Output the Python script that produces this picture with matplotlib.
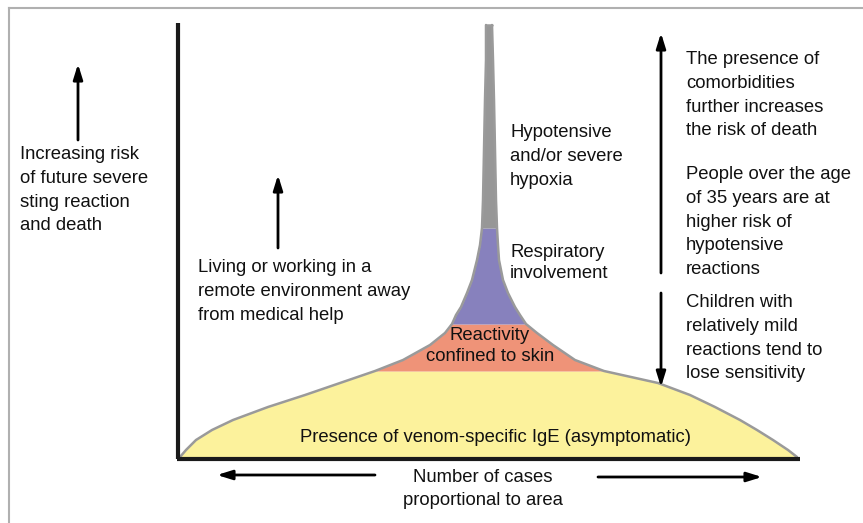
import numpy as np
import matplotlib
matplotlib.use("Agg")
import matplotlib.pyplot as plt

plt.rcParams['font.family'] = ['Liberation Sans', 'DejaVu Sans']

# outline of the "pyramid" (pixel-like coordinates, y measured from the top)
profile_y = np.array([457, 450, 440, 430, 420, 407, 395, 383, 371, 360, 345, 333,
                      324, 315, 307, 293, 280, 260, 245, 228, 200, 150, 100, 60, 25])
profile_left = np.array([180, 186, 196, 212, 233, 268, 305, 340, 375, 403, 430, 445,
                         452, 456, 461, 467, 472, 477, 480, 482, 483, 484, 485, 486, 486])
profile_right = np.array([797, 788, 773, 757, 740, 715, 690, 658, 604, 575, 553, 537,
                          526, 520, 515, 508, 503, 499, 498, 497, 496, 495, 494, 493, 492])

# layers: (bottom, top, colour)
band_names = ["IgE", "skin", "respiratory", "hypotensive"]
band_bottom = [457, 371, 324, 228]
band_top = [371, 324, 228, 25]
band_colors = ["#fcf29c", "#ef9378", "#8781bd", "#979797"]

fig = plt.figure(figsize=(8.63, 5.23), dpi=100)
ax = fig.add_axes([0, 0, 1, 1])
ax.set_xlim(0, 863)
ax.set_ylim(523, 0)
ax.axis("off")

# light frame
ax.plot([9, 863], [8, 8], color="#b0b0b0", lw=1.5)
ax.plot([9, 9], [8, 523], color="#b0b0b0", lw=1.5)

for b, t, c in zip(band_bottom, band_top, band_colors):
    m = (profile_y <= b) & (profile_y >= t)
    ax.fill_betweenx(profile_y[m], profile_left[m], profile_right[m], color=c, lw=0)

ax.plot(profile_left, profile_y, color="#9a9a9a", lw=1.8, solid_capstyle="round",
        solid_joinstyle="round")
ax.plot(profile_right, profile_y, color="#9a9a9a", lw=1.8, solid_capstyle="round",
        solid_joinstyle="round")
ax.plot([profile_left[-1], profile_right[-1]], [25, 25], color="#9a9a9a", lw=1.8,
        solid_capstyle="round")

# axes
ax.plot([178, 178], [23, 459], color="#1a1a1a", lw=3, solid_capstyle="butt")
ax.plot([177, 800], [459, 459], color="#1a1a1a", lw=3, solid_capstyle="butt")

arrow = dict(arrowstyle="-|>,head_length=0.9,head_width=0.28", color="black", lw=2,
             shrinkA=0, shrinkB=0)
ax.annotate("", xy=(78, 64), xytext=(78, 140), arrowprops=arrow)
ax.annotate("", xy=(278, 175), xytext=(278, 248), arrowprops=arrow)
ax.annotate("", xy=(661, 33), xytext=(661, 273), arrowprops=arrow)
ax.annotate("", xy=(661, 387), xytext=(661, 293), arrowprops=arrow)
ax.annotate("", xy=(217, 475), xytext=(375, 475), arrowprops=arrow)
ax.annotate("", xy=(762, 477), xytext=(598, 477), arrowprops=arrow)

fs = 13.3
ink = "#111111"
txt = dict(fontsize=fs, color=ink, linespacing=1.52, va="top", ha="left")
ax.text(20, 146, "Increasing risk\nof future severe\nsting reaction\nand death", **txt)
ax.text(198, 259, "Living or working in a\nremote environment away\nfrom medical help", **txt)
ax.text(510, 124, "Hypotensive\nand/or severe\nhypoxia", **txt)
ax.text(510, 244, "Respiratory\ninvolvement", fontsize=fs, color=ink,
        linespacing=1.34, va="top", ha="left")
ax.text(490, 327, "Reactivity\nconfined to skin", fontsize=fs, color=ink,
        linespacing=1.34, va="top", ha="center")
ax.text(495, 437, "Presence of venom-specific IgE (asymptomatic)", fontsize=fs,
        color=ink, va="center", ha="center")
ax.text(686, 51, "The presence of\ncomorbidities\nfurther increases\nthe risk of death", **txt)
ax.text(686, 166, "People over the age\nof 35 years are at\nhigher risk of\nhypotensive\nreactions", **txt)
ax.text(686, 294, "Children with\nrelatively mild\nreactions tend to\nlose sensitivity", **txt)
ax.text(483, 469, "Number of cases\nproportional to area", fontsize=fs, color=ink,
        linespacing=1.45, va="top", ha="center")

fig.savefig("out.png", dpi=100)
